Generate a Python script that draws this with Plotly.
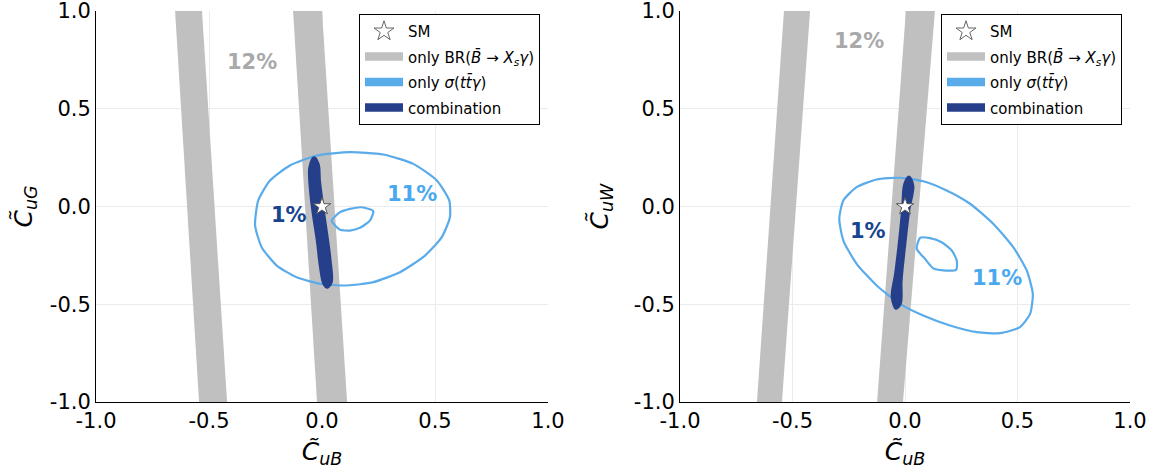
import plotly.graph_objects as go

# ---------------- data ----------------
tick_vals = [-1.0, -0.5, 0.0, 0.5, 1.0]
tick_text = ["-1.0", "-0.5", "0.0", "0.5", "1.0"]

# only BR(B -> Xs gamma) bands: corners (top-left, top-right, bottom-right, bottom-left)
band_y = [1.0, 1.0, -1.0, -1.0, 1.0]
uG_band1_x = [-0.650, -0.531, -0.420, -0.544, -0.650]
uG_band2_x = [-0.128, 0.000, 0.111, -0.022, -0.128]
uW_band1_x = [-0.538, -0.422, -0.547, -0.658, -0.538]
uW_band2_x = [0.004, 0.133, -0.009, -0.124, 0.004]

# only sigma(tt gamma) contour (uG panel)
uG_sig_outer_x = [-0.296, -0.282, -0.230, -0.142, -0.023, 0.124, 0.271, 0.404, 0.508, 0.563,
                  0.566, 0.530, 0.456, 0.345, 0.227, 0.109, -0.009, -0.112, -0.200, -0.267, -0.296]
uG_sig_outer_y = [-0.097, 0.031, 0.133, 0.210, 0.261, 0.278, 0.266, 0.218, 0.133, 0.031,
                  -0.055, -0.157, -0.251, -0.336, -0.387, -0.404, -0.395, -0.362, -0.302, -0.208, -0.097]
uG_sig_inner_x = [0.043, 0.080, 0.124, 0.176, 0.227, 0.212, 0.168, 0.124, 0.080, 0.058, 0.043]
uG_sig_inner_y = [-0.072, -0.029, -0.012, -0.004, -0.024, -0.072, -0.109, -0.123, -0.119, -0.097, -0.072]

# combination (uG panel)
uG_comb_x = [-0.035, -0.056, -0.053, -0.041, -0.023, -0.009, 0.006, 0.023, 0.043, 0.038,
             0.023, 0.006, -0.009, -0.015, -0.035]
uG_comb_y = [0.252, 0.201, 0.082, -0.037, -0.174, -0.310, -0.395, -0.416, -0.387, -0.276,
             -0.140, -0.004, 0.133, 0.218, 0.252]

# only sigma(tt gamma) contour (uW panel)
uW_sig_outer_x = [-0.292, -0.274, -0.215, -0.126, -0.022, 0.081, 0.185, 0.289, 0.392, 0.481, 0.541,
                  0.568, 0.556, 0.511, 0.422, 0.319, 0.200, 0.081, -0.022, -0.126, -0.215, -0.274, -0.292]
uW_sig_outer_y = [-0.063, 0.031, 0.099, 0.138, 0.147, 0.129, 0.082, 0.014, -0.088, -0.208, -0.327,
                  -0.447, -0.549, -0.617, -0.648, -0.643, -0.609, -0.558, -0.498, -0.404, -0.293, -0.174, -0.063]
uW_sig_inner_x = [0.067, 0.052, 0.089, 0.129, 0.227, 0.230, 0.208, 0.163, 0.111, 0.067]
uW_sig_inner_y = [-0.160, -0.216, -0.268, -0.319, -0.324, -0.276, -0.225, -0.183, -0.162, -0.160]

# combination (uW panel)
uW_comb_x = [0.018, -0.003, -0.013, -0.028, -0.044, -0.059, -0.040, -0.019, -0.015, 0.000, 0.019, 0.037, 0.018]
uW_comb_y = [0.153, 0.116, -0.020, -0.191, -0.344, -0.464, -0.523, -0.498, -0.379, -0.208, -0.020, 0.107, 0.153]

sm_point = [0.0, 0.0]

# label positions (data coords) and texts
uG_labels = {"12%": (-0.31, 0.737), "11%": (0.398, 0.066), "1%": (-0.146, -0.046)}
uW_labels = {"12%": (-0.204, 0.846), "11%": (0.41, -0.368), "1%": (-0.163, -0.126)}

# ---------------- styles ----------------
GRAY = "#c0c0c0"
LBLUE = "#5aabea"
NAVY = "#253f8a"
FONT = "DejaVu Sans"
label_colors = {"12%": "#a9a9a9", "11%": "#4aa9ee", "1%": "#16448f"}

W, H = 1160, 473
fig = go.Figure()


def add_panel(xa, ya, legend_name, bands, sig_outer, sig_inner, comb, labels):
    for bx in bands:
        fig.add_trace(go.Scatter(x=bx, y=band_y, mode="lines", fill="toself", fillcolor=GRAY,
                                 line=dict(width=0, color=GRAY), hoverinfo="skip",
                                 showlegend=False, xaxis=xa, yaxis=ya))
    for (cx, cy) in (sig_outer, sig_inner):
        fig.add_trace(go.Scatter(x=cx, y=cy, mode="lines",
                                 line=dict(color=LBLUE, width=2.2, shape="spline", smoothing=0.6),
                                 showlegend=False, xaxis=xa, yaxis=ya, hoverinfo="skip"))
    fig.add_trace(go.Scatter(x=comb[0], y=comb[1], mode="lines", fill="toself", fillcolor=NAVY,
                             line=dict(color=NAVY, width=2, shape="spline"), showlegend=False,
                             xaxis=xa, yaxis=ya, hoverinfo="skip"))
    fig.add_trace(go.Scatter(x=[sm_point[0]], y=[sm_point[1]], mode="markers",
                             marker=dict(symbol="star", size=13, color="white",
                                         line=dict(color="#555555", width=1)),
                             showlegend=False, xaxis=xa, yaxis=ya))
    # legend entries
    fig.add_trace(go.Scatter(x=[None], y=[None], mode="markers", name="SM",
                             marker=dict(symbol="star-open", size=15, color="#666666"),
                             legend=legend_name, legendgroup="a" + legend_name, xaxis=xa, yaxis=ya))
    leg = [("only BR(<i>B̄</i> → <i>X<sub>s</sub>γ</i>)", GRAY),
           ("only <i>σ</i>(<i>tt̄γ</i>)", LBLUE),
           ("combination", NAVY)]
    for i, (nm, col) in enumerate(leg):
        fig.add_trace(go.Scatter(x=[None], y=[None], mode="lines", fill="toself", fillcolor=col,
                                 line=dict(color=col, width=5), name=nm,
                                 legend=legend_name, legendgroup=f"{i}{legend_name}",
                                 xaxis=xa, yaxis=ya))
    for txt, (lx, ly) in labels.items():
        fig.add_annotation(x=lx, y=ly, xref=xa, yref=ya, text=f"<b>{txt}</b>", showarrow=False,
                           font=dict(family=FONT, size=21, color=label_colors[txt]))


add_panel("x", "y", "legend", [uG_band1_x, uG_band2_x], (uG_sig_outer_x, uG_sig_outer_y),
          (uG_sig_inner_x, uG_sig_inner_y), (uG_comb_x, uG_comb_y), uG_labels)
add_panel("x2", "y2", "legend2", [uW_band1_x, uW_band2_x], (uW_sig_outer_x, uW_sig_outer_y),
          (uW_sig_inner_x, uW_sig_inner_y), (uW_comb_x, uW_comb_y), uW_labels)

ytop, ybot = 1 - 11 / H, 1 - 402 / H
axis_common = dict(range=[-1, 1], tickvals=tick_vals, ticktext=tick_text, showgrid=True,
                   gridcolor="#ebebeb", gridwidth=1, zeroline=False, showline=True,
                   linecolor="black", linewidth=1, mirror=False, ticks="",
                   ticklabeloverflow="allow",
                   tickfont=dict(family=FONT, size=21, color="black"), automargin=False)

title_font = dict(family=FONT, size=25, color="black")
legend_common = dict(y=1 - 14 / H, xanchor="right", yanchor="top", bgcolor="white",
                     bordercolor="black", borderwidth=1, font=dict(family=FONT, size=15),
                     traceorder="grouped", tracegroupgap=3, itemwidth=38)
fig.update_layout(
    width=W, height=H, margin=dict(l=0, r=0, t=0, b=0),
    paper_bgcolor="white", plot_bgcolor="white",
    font=dict(family=FONT, color="black"),
    xaxis=dict(axis_common, domain=[96 / W, 548 / W], anchor="y",
               title=dict(text="<i>C̃</i><sub><i>uB</i></sub>", font=title_font, standoff=10)),
    yaxis=dict(axis_common, domain=[ybot, ytop], anchor="x",
               title=dict(text="<i>C̃</i><sub><i>uG</i></sub>", font=title_font, standoff=10)),
    xaxis2=dict(axis_common, domain=[680 / W, 1130 / W], anchor="y2",
                title=dict(text="<i>C̃</i><sub><i>uB</i></sub>", font=title_font, standoff=10)),
    yaxis2=dict(axis_common, domain=[ybot, ytop], anchor="x2",
                title=dict(text="<i>C̃</i><sub><i>uW</i></sub>", font=title_font, standoff=18)),
    legend=dict(legend_common, x=540 / W),
    legend2=dict(legend_common, x=1122 / W),
)

fig.write_html("out.html", config={"displayModeBar": False},
               post_script="document.body.style.margin='0px';")
